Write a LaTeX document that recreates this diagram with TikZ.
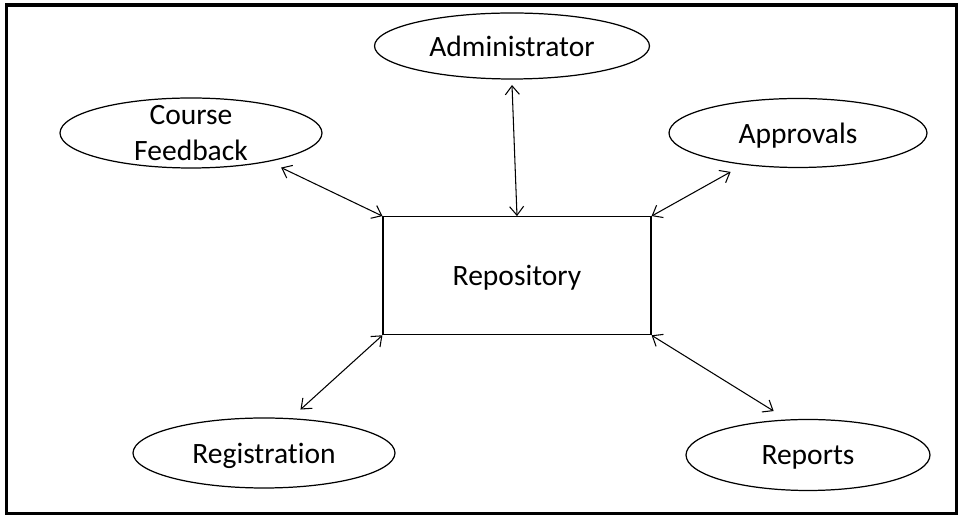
\documentclass[tikz,border=0pt]{standalone}
\usepackage{fontspec}
\setmainfont{Carlito}[Ligatures=NoCommon]
\usetikzlibrary{shapes.geometric,arrows.meta}
\tikzset{
	oval/.style={draw, ellipse, line width=0.7pt, inner sep=0pt, outer sep=0.2cm, text depth=0pt, font=\fontsize{16.8}{20.8}\selectfont},
	store/.style={draw, rectangle, line width=0.7pt, minimum width=5.36cm, minimum height=2.36cm, text depth=0pt, font=\fontsize{16.8}{20.8}\selectfont},
	link/.style={{Straight Barb[length=5pt,width=8pt]}-{Straight Barb[length=5pt,width=8pt]}, line width=0.6pt}
}

\begin{document}
\begin{tikzpicture}[x=0.02cm, y=-0.02cm]
				\useasboundingbox (0, 0) rectangle (964, 519);
				\draw[line width=1.9pt] (6.5, 5) rectangle (956.5, 513.3);
				
				\node[store] (rep) at (517, 275.7) {Repository};
				
				\node[oval, minimum width=5.5cm, minimum height=1.32cm, outer sep=0.12cm] (admin) at (512, 46) {Administrator};
				\node[oval, minimum width=5.24cm, minimum height=1.4cm, label={[align=center, font=\fontsize{16.8}{20.8}\selectfont]center:Course\\Feedback}] (cf) at (191, 133) {};
				\node[oval, minimum width=5.16cm, minimum height=1.38cm] (app) at (798, 133) {Approvals};
				\node[oval, minimum width=5.24cm, minimum height=1.4cm] (reg) at (264, 453) {Registration};
				\node[oval, minimum width=4.88cm, minimum height=1.42cm] (reps) at (808, 455) {Reports};
				
				\draw[link] (admin.south) -- (rep.north);
				\draw[link] (cf.-21) -- (rep.north west);
				\draw[link] (app.-150) -- (rep.north east);
				\draw[link] (reg.50) -- (rep.south west);
				\draw[link] (reps.128) -- (rep.south east);
			\end{tikzpicture}
\end{document}
